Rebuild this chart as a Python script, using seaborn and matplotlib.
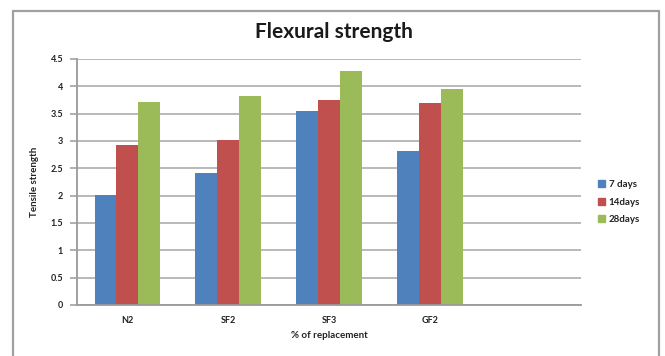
import matplotlib
matplotlib.use("Agg")
import matplotlib.pyplot as plt
from matplotlib.lines import Line2D
import seaborn as sns
import pandas as pd

# Mix designs and their strengths at each curing age
mixes = ["N2", "SF2", "SF3", "GF2"]
ages = ["7 days", "14days", "28days"]
strength_7 = [2.02, 2.42, 3.54, 2.82]
strength_14 = [2.92, 3.01, 3.75, 3.70]
strength_28 = [3.72, 3.83, 4.28, 3.96]
y_ticks = [0, 0.5, 1, 1.5, 2, 2.5, 3, 3.5, 4, 4.5]
y_tick_labels = ["0", "0.5", "1", "1.5", "2", "2.5", "3", "3.5", "4", "4.5"]

colors = ["#4F81BD", "#C0504D", "#9BBB59"]

df = pd.DataFrame({
    "mix": mixes * 3,
    "age": [a for a in ages for _ in mixes],
    "strength": strength_7 + strength_14 + strength_28,
})

sns.set_theme(style="white")
plt.rcParams["font.family"] = ["Lato", "DejaVu Sans"]

W, H = 665, 356
fig = plt.figure(figsize=(W / 100, H / 100), dpi=100)
ax = fig.add_axes([77 / W, 1 - 305 / H, (581 - 77) / W, (305 - 59) / H])

sns.barplot(data=df, x="mix", y="strength", hue="age", order=mixes,
            hue_order=ages, palette=colors, width=0.65, gap=0,
            saturation=1, ax=ax, legend=False, edgecolor="none")

# Room for a fifth, empty category slot on the right
ax.set_xlim(-0.5, 4.5)
ax.set_ylim(0, 4.5)
ax.set_yticks(y_ticks)
ax.set_yticklabels(y_tick_labels, fontsize=6.5, fontweight="bold", color="#222222")
ax.set_xticks(range(len(mixes)))
ax.set_xticklabels(mixes, fontsize=6.5, fontweight="bold", color="#222222")
ax.yaxis.grid(True, color="#A6A6A6", linewidth=1.1)
ax.set_axisbelow(True)
for side in ["top", "right"]:
    ax.spines[side].set_visible(False)
for side in ["left", "bottom"]:
    ax.spines[side].set_color("#9A9A9A")
    ax.spines[side].set_linewidth(1.3)
ax.tick_params(axis="y", which="both", left=True, length=5, width=1.1,
               color="#9A9A9A", pad=5)
ax.tick_params(axis="x", bottom=False, pad=2)

ax.set_xlabel("% of replacement", fontsize=7, fontweight="bold",
              color="#222222", labelpad=4)
ax.set_ylabel("Tensile strength", fontsize=7, fontweight="bold",
              color="#222222", labelpad=8)

fig.text(334 / W, 1 - 32 / H, "Flexural strength", ha="center", va="center",
         fontsize=15, fontweight="bold", color="#1a1a1a")

# Legend to the right of the plot
handles = [plt.Rectangle((0, 0), 1, 1, color=c) for c in colors]
fig.legend(handles, ages, loc="center left",
           bbox_to_anchor=(594 / W, 1 - 202 / H), frameon=False,
           fontsize=7, handlelength=0.7, handleheight=0.7,
           handletextpad=0.4, labelspacing=0.9, borderaxespad=0)
for t in fig.legends[0].get_texts():
    t.set_fontweight("bold")
    t.set_color("#222222")

# Chart frame
frame_kw = dict(color="#A0A0A0", linewidth=1.6, transform=fig.transFigure)
left, right, top = 13 / W, 659 / W, 1 - 11 / H
fig.add_artist(Line2D([left, right], [top, top], **frame_kw))
fig.add_artist(Line2D([left, left], [0, top], **frame_kw))
fig.add_artist(Line2D([right, right], [0, top], **frame_kw))

fig.savefig("out.png", dpi=100)
